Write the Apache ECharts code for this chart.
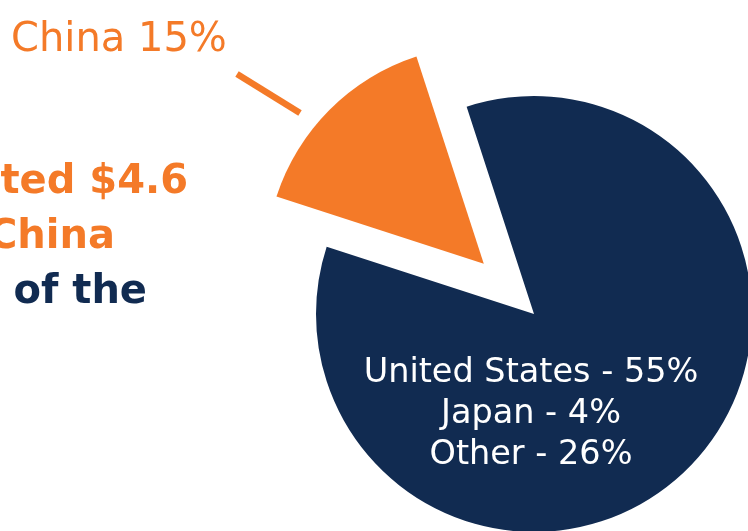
<!DOCTYPE html>
<html>
<head>
<meta charset="utf-8">
<script src="https://cdn.jsdelivr.net/npm/echarts@6/dist/echarts.min.js"></script>
<style>
html,body{margin:0;padding:0;background:#fff;}
#chart{width:748px;height:531px;}
</style>
</head>
<body>
<div id="chart"></div>
<script>
// ---- data ----
const highlightName = 'China';
const highlightShare = 15;
const otherNames = ['United States', 'Japan', 'Other'];
const otherShares = [55, 4, 26];
const introLines = ['ted $4.6', 'China', 's of the'];

const ORANGE = '#F47A28';
const NAVY = '#112B51';
const FONT = 'DejaVu Sans';

const restTotal = otherShares.reduce((a, b) => a + b, 0);
const restLabel = otherNames.map((n, i) => n + ' - ' + otherShares[i] + '%').join('\n');

const chart = echarts.init(document.getElementById('chart'), null, {renderer: 'canvas'});
chart.setOption({
  backgroundColor: '#ffffff',
  animation: false,
  graphic: [
    {type: 'text', x: 11, y: 41,
     style: {text: highlightName + ' ' + highlightShare + '%', fill: ORANGE, font: 'normal 40px "' + FONT + '"', align: 'left', verticalAlign: 'middle'}},
    {type: 'line', shape: {x1: 237, y1: 74, x2: 300, y2: 113},
     style: {stroke: ORANGE, lineWidth: 6.5, lineCap: 'butt'}, silent: true},
    {type: 'text', x: 188, y: 183,
     style: {text: introLines[0], fill: ORANGE, font: 'bold 40px "' + FONT + '"', align: 'right', verticalAlign: 'middle'}},
    {type: 'text', x: 115, y: 238,
     style: {text: introLines[1], fill: ORANGE, font: 'bold 40px "' + FONT + '"', align: 'right', verticalAlign: 'middle'}},
    {type: 'text', x: 147, y: 293,
     style: {text: introLines[2], fill: NAVY, font: 'bold 40px "' + FONT + '"', align: 'right', verticalAlign: 'middle'}}
  ],
  series: [{
    type: 'pie',
    center: [534, 314],
    radius: 218,
    startAngle: 162,
    clockwise: true,
    selectedMode: 'single',
    selectedOffset: 71,
    avoidLabelOverlap: false,
    emphasis: {disabled: true},
    labelLine: {show: false},
    labelLayout: function (p) {
      if (p.dataIndex === 1) {
        return {x: 531, y: 414, align: 'center', verticalAlign: 'middle'};
      }
    },
    data: [
      {
        name: highlightName, value: highlightShare, selected: true,
        itemStyle: {color: ORANGE},
        select: {itemStyle: {color: ORANGE}},
        label: {show: false}
      },
      {
        name: 'Rest', value: restTotal,
        itemStyle: {color: NAVY},
        select: {itemStyle: {color: NAVY}},
        label: {show: true, position: 'inside', formatter: restLabel,
                color: '#ffffff', fontSize: 33.5, lineHeight: 41, fontFamily: FONT, align: 'center'}
      }
    ]
  }]
});
</script>
</body>
</html>
